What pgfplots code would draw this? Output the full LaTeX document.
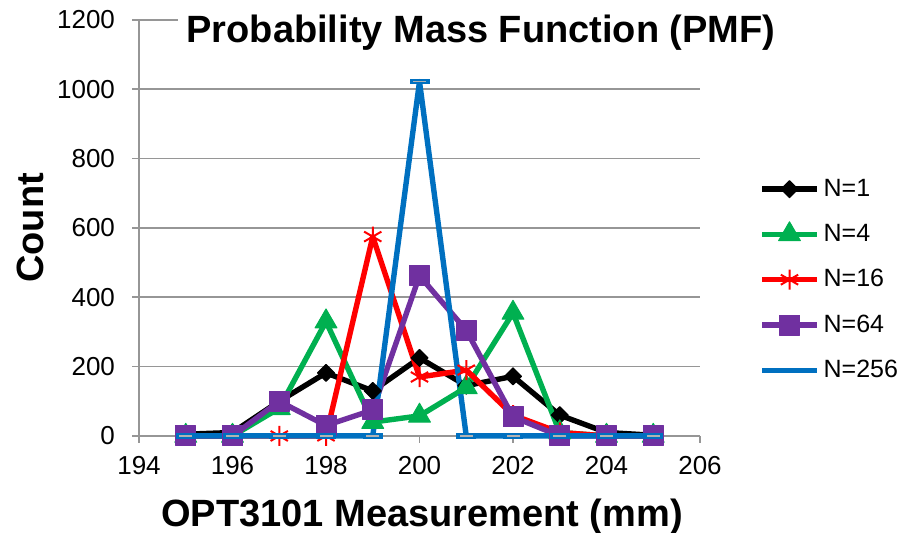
\documentclass[border=0pt]{standalone}
\usepackage{fontspec}
\setmainfont{Liberation Sans}
\usepackage{pgfplots}
\pgfplotsset{compat=1.18}
\definecolor{cgreen}{RGB}{0,176,80}
\definecolor{cred}{RGB}{255,0,0}
\definecolor{cpurple}{RGB}{112,48,160}
\definecolor{cblue}{RGB}{0,112,192}
\definecolor{cgrid}{RGB}{150,150,150}
\begin{document}
\begin{tikzpicture}
\begin{axis}[
  scale only axis,
  width=280.5pt, height=208pt,
  xmin=194, xmax=206, ymin=0, ymax=1200,
  xtick={194,196,...,206}, ytick={0,200,...,1200},
  axis x line=bottom, axis y line=left,
  axis line style={-, cgrid, line width=0.8pt},
  tick style={cgrid, line width=0.8pt},
  tick align=outside, major tick length=3.5pt,
  ymajorgrids, grid style={cgrid, line width=0.8pt},
  /pgf/number format/assume math mode=true,
  /pgf/number format/1000 sep={},
  ticklabel style={font=\fontsize{13pt}{15pt}\selectfont},
  yticklabel style={xshift=-5pt},
  xticklabel style={yshift=-3pt},
  xlabel={OPT3101 Measurement (mm)},
  ylabel={Count},
  label style={font=\bfseries\fontsize{19pt}{22pt}\selectfont},
  xlabel style={at={(0.5045,-0.2175)}, anchor=base},
  ylabel style={at={(-0.171,0.5)}, anchor=base},
  title={Probability Mass Function (PMF)},
  every axis title/.style={font=\bfseries\fontsize{19pt}{22pt}\selectfont, at={(0.6096,0.947)}, anchor=base, fill=white, inner sep=4pt},
  legend style={draw=none, fill=none, inner sep=0pt, at={(1.105,0.375)}, anchor=west, font=\fontsize{12.5pt}{15pt}\selectfont, row sep=8.5pt},
  legend cell align=left,
  legend image code/.code={\draw[mark repeat=2,mark phase=2] plot coordinates {(0pt,0pt) (13.75pt,0pt) (27.5pt,0pt)};},
  every axis plot/.append style={line width=2.7pt, line join=round},
  clip=false,
]
\addplot[black, mark=diamond*, mark size=4.25pt, mark options={solid, line width=0.5pt, xscale=1.333}] coordinates {
 (195,5) (196,10) (197,100) (198,182) (199,130) (200,225) (201,145) (202,172) (203,60) (204,10) (205,2)};
\addlegendentry{N=1}
\addplot[cgreen, mark=triangle*, mark size=6.3pt, mark options={solid, line width=0.5pt}] coordinates {
 (195,0) (196,0) (197,80) (198,330) (199,40) (200,58) (201,140) (202,355) (203,10) (204,0) (205,0)};
\addlegendentry{N=4}
\addplot[cred, mark=asterisk, mark size=5pt, mark options={solid, line width=1pt}] coordinates {
 (195,0) (196,0) (197,0) (198,0) (199,575) (200,170) (201,190) (202,60) (203,10) (204,0) (205,0)};
\addlegendentry{N=16}
\addplot[cpurple, mark=square*, mark size=5pt, mark options={solid, line width=0.5pt}] coordinates {
 (195,0) (196,0) (197,100) (198,30) (199,75) (200,462) (201,305) (202,55) (203,0) (204,0) (205,0)};
\addlegendentry{N=64}
\addplot[cblue, mark=-, mark size=5pt, mark options={solid, line width=2.6pt}] coordinates {
 (195,0) (196,0) (197,0) (198,0) (199,0) (200,1022) (201,0) (202,0) (203,0) (204,0) (205,0)};
\addlegendentry{N=256}
\addplot[forget plot, only marks, mark=-, mark size=3.25pt, mark options={solid, line width=0.8pt, color=gray!60}] coordinates {
 (195,0) (196,0) (197,0) (198,0) (199,0) (200,1022) (201,0) (202,0) (203,0) (204,0) (205,0)};
\coordinate (bl) at (rel axis cs:-0.2478,-0.2332);
\coordinate (tr) at (rel axis cs:1.369,1.048);
\end{axis}
\pgfresetboundingbox
\path[use as bounding box] (bl) rectangle (tr);
\end{tikzpicture}
\end{document}
